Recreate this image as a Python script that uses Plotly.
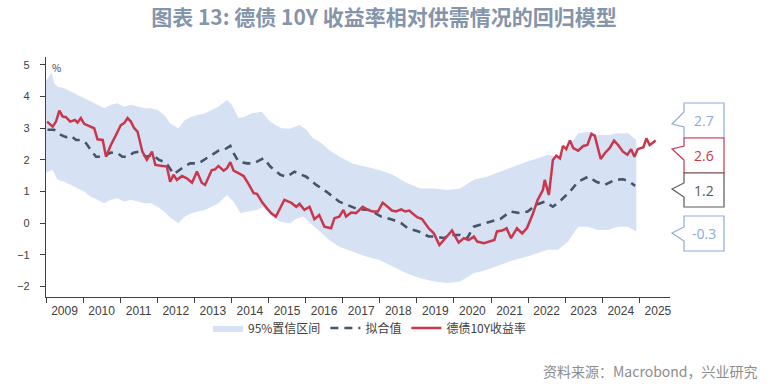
import plotly.graph_objects as go
import pandas as pd

# ---------------- data (decimal years, values in %) ----------------
yield_t = [2009.03, 2009.18, 2009.27, 2009.36, 2009.45, 2009.54, 2009.65, 2009.78, 2009.85, 2009.94,
           2010.03, 2010.17, 2010.30, 2010.39, 2010.53, 2010.62, 2010.75, 2010.89, 2011.02, 2011.11,
           2011.20, 2011.29, 2011.38, 2011.47, 2011.60, 2011.72, 2011.86, 2011.95, 2012.14, 2012.26,
           2012.35, 2012.44, 2012.53, 2012.67, 2012.80, 2012.94, 2013.07, 2013.20, 2013.29, 2013.47,
           2013.56, 2013.65, 2013.79, 2013.88, 2013.97, 2014.06, 2014.19, 2014.33, 2014.46, 2014.60,
           2014.69, 2014.82, 2014.96, 2015.07, 2015.20, 2015.32, 2015.43, 2015.54, 2015.61, 2015.75,
           2015.84, 2015.97, 2016.11, 2016.24, 2016.37, 2016.51, 2016.69, 2016.78, 2016.91, 2017.02,
           2017.09, 2017.23, 2017.36, 2017.54, 2017.68, 2017.81, 2017.95, 2018.08, 2018.22, 2018.33,
           2018.44, 2018.58, 2018.69, 2018.80, 2018.87, 2019.01, 2019.14, 2019.23, 2019.32, 2019.46,
           2019.61, 2019.73, 2019.82, 2019.95, 2020.04, 2020.13, 2020.27, 2020.40, 2020.54, 2020.63,
           2020.81, 2020.94, 2021.09, 2021.16, 2021.30, 2021.42, 2021.54, 2021.70, 2021.84, 2021.97,
           2022.13, 2022.26, 2022.40, 2022.45, 2022.56, 2022.67, 2022.76, 2022.86, 2022.94, 2023.03,
           2023.13, 2023.22, 2023.35, 2023.49, 2023.60, 2023.71, 2023.80, 2023.96, 2024.07, 2024.20,
           2024.32, 2024.43, 2024.56, 2024.68, 2024.78, 2024.87, 2024.96, 2025.11, 2025.19, 2025.28,
           2025.44]
yield_v = [3.21, 3.05, 3.21, 3.56, 3.37, 3.35, 3.21, 3.26, 3.18, 3.32,
           3.14, 3.07, 3.00, 2.65, 2.63, 2.10, 2.47, 2.79, 3.10, 3.16,
           3.32, 3.21, 3.00, 2.89, 2.26, 2.00, 2.26, 1.84, 1.81, 1.79,
           1.31, 1.53, 1.37, 1.49, 1.42, 1.28, 1.63, 1.28, 1.21, 1.68,
           1.70, 1.81, 1.66, 1.74, 1.93, 1.66, 1.58, 1.49, 1.24, 0.95,
           0.93, 0.68, 0.47, 0.32, 0.21, 0.47, 0.74, 0.68, 0.65, 0.52,
           0.61, 0.42, 0.52, 0.13, 0.26, -0.11, -0.16, 0.16, 0.21, 0.42,
           0.21, 0.34, 0.32, 0.52, 0.42, 0.37, 0.37, 0.65, 0.52, 0.40,
           0.37, 0.44, 0.37, 0.40, 0.32, 0.19, 0.13, 0.00, -0.16, -0.32,
           -0.69, -0.53, -0.42, -0.23, -0.42, -0.61, -0.47, -0.53, -0.42, -0.58,
           -0.63, -0.58, -0.53, -0.26, -0.23, -0.16, -0.47, -0.16, -0.32, -0.15,
           0.30, 0.74, 1.05, 1.37, 0.89, 2.00, 2.13, 2.05, 2.44, 2.34,
           2.61, 2.37, 2.29, 2.44, 2.47, 2.82, 2.76, 2.03, 2.21, 2.37,
           2.61, 2.47, 2.26, 2.16, 2.34, 2.10, 2.34, 2.40, 2.68, 2.47,
           2.61]

fit_t = [2009.04, 2009.22, 2009.40, 2009.54, 2009.67, 2009.81, 2009.94, 2010.08, 2010.21, 2010.35,
         2010.53, 2010.75, 2010.93, 2011.06, 2011.20, 2011.36, 2011.51, 2011.70, 2011.87, 2012.05,
         2012.23, 2012.45, 2012.75, 2012.89, 2013.11, 2013.34, 2013.47, 2013.65, 2013.79, 2013.97,
         2014.06, 2014.19, 2014.42, 2014.60, 2014.78, 2014.87, 2015.05, 2015.32, 2015.50, 2015.70,
         2015.79, 2016.02, 2016.29, 2016.56, 2016.91, 2017.27, 2017.41, 2017.72, 2018.04, 2018.35,
         2018.58, 2018.76, 2019.05, 2019.32, 2019.50, 2019.73, 2019.91, 2020.17, 2020.36, 2020.54,
         2020.81, 2020.98, 2021.25, 2021.52, 2021.79, 2021.99, 2022.22, 2022.45, 2022.67, 2022.90,
         2023.13, 2023.35, 2023.62, 2023.84, 2024.07, 2024.34, 2024.56, 2024.74, 2024.89]
fit_v = [2.95, 2.95, 2.79, 2.72, 2.76, 2.63, 2.63, 2.53, 2.31, 2.10,
         2.10, 2.23, 2.21, 2.10, 2.10, 2.23, 2.26, 2.10, 2.16, 2.00,
         1.92, 1.55, 1.81, 1.89, 1.89, 2.05, 2.16, 2.29, 2.31, 2.44,
         2.21, 1.95, 1.89, 1.89, 2.00, 2.05, 1.79, 1.53, 1.47, 1.63,
         1.58, 1.47, 1.21, 1.00, 0.68, 0.52, 0.44, 0.42, 0.21, 0.11,
         0.00, -0.16, -0.26, -0.42, -0.42, -0.47, -0.37, -0.37, -0.47, -0.11,
         0.00, 0.05, 0.13, 0.37, 0.32, 0.37, 0.58, 0.68, 0.52, 0.74,
         1.00, 1.31, 1.47, 1.31, 1.21, 1.37, 1.39, 1.31, 1.18]

upper_t = [2009.00, 2009.15, 2009.22, 2009.31, 2009.49, 2009.67, 2009.85, 2010.03, 2010.21, 2010.39,
           2010.57, 2010.75, 2010.93, 2011.11, 2011.29, 2011.47, 2011.65, 2011.83, 2012.01, 2012.19,
           2012.35, 2012.57, 2012.75, 2012.94, 2013.11, 2013.29, 2013.47, 2013.65, 2013.88, 2014.01,
           2014.19, 2014.37, 2014.55, 2014.82, 2015.00, 2015.18, 2015.36, 2015.58, 2015.84, 2016.02,
           2016.20, 2016.37, 2016.64, 2016.91, 2017.27, 2017.63, 2017.99, 2018.35, 2018.72, 2019.10,
           2019.46, 2019.82, 2020.17, 2020.54, 2020.89, 2021.25, 2021.61, 2021.98, 2022.26, 2022.54,
           2022.81, 2023.08, 2023.35, 2023.62, 2023.89, 2024.16, 2024.43, 2024.70, 2024.92]
upper_v = [4.50, 4.76, 4.42, 4.31, 4.26, 4.16, 4.05, 3.95, 3.84, 3.74,
           3.63, 3.74, 3.79, 3.68, 3.74, 3.68, 3.63, 3.63, 3.58, 3.42,
           3.15, 3.00, 3.26, 3.37, 3.42, 3.47, 3.58, 3.68, 3.89, 3.74,
           3.32, 3.37, 3.47, 3.52, 3.26, 3.10, 3.00, 2.98, 3.10, 2.95,
           2.68, 2.58, 2.31, 2.10, 1.89, 1.79, 1.68, 1.53, 1.28, 1.10,
           1.10, 1.05, 1.10, 1.37, 1.47, 1.63, 1.79, 1.95, 2.05, 2.16,
           2.10, 2.37, 2.84, 2.89, 2.79, 2.79, 2.84, 2.84, 2.63]

lower_t = [2009.00, 2009.18, 2009.31, 2009.49, 2009.67, 2009.85, 2010.03, 2010.21, 2010.39, 2010.57,
           2010.75, 2010.93, 2011.11, 2011.29, 2011.47, 2011.65, 2011.83, 2012.01, 2012.19, 2012.35,
           2012.57, 2012.75, 2012.94, 2013.11, 2013.29, 2013.47, 2013.65, 2013.88, 2014.06, 2014.24,
           2014.46, 2014.69, 2014.87, 2015.09, 2015.32, 2015.58, 2015.75, 2015.93, 2016.11, 2016.37,
           2016.64, 2016.91, 2017.27, 2017.63, 2017.99, 2018.35, 2018.72, 2019.10, 2019.46, 2019.82,
           2020.17, 2020.54, 2020.89, 2021.25, 2021.61, 2021.98, 2022.26, 2022.54, 2022.81, 2023.08,
           2023.35, 2023.62, 2023.89, 2024.16, 2024.43, 2024.70, 2024.92]
lower_v = [1.60, 1.68, 1.37, 1.31, 1.21, 1.10, 1.00, 0.84, 0.74, 0.63,
           0.74, 0.79, 0.68, 0.74, 0.68, 0.63, 0.63, 0.52, 0.37, 0.18,
           0.00, 0.21, 0.32, 0.37, 0.42, 0.52, 0.63, 0.89, 0.68, 0.32,
           0.37, 0.42, 0.52, 0.21, 0.05, 0.00, 0.13, 0.21, 0.00, -0.26,
           -0.53, -0.74, -0.90, -1.05, -1.16, -1.37, -1.58, -1.74, -1.84, -1.89,
           -1.84, -1.58, -1.47, -1.32, -1.16, -1.05, -0.95, -0.84, -0.84, -0.58,
           -0.11, -0.11, -0.21, -0.21, -0.11, -0.11, -0.26]

callout_labels = ["2.7", "2.6", "1.2", "-0.3"]

title_text = "图表 13: 德债 10Y 收益率相对供需情况的回归模型"
source_text = "资料来源：Macrobond，兴业研究"
legend_names = ["95%置信区间", "拟合值", "德债10Y收益率"]

# ---------------- helpers ----------------
def to_dates(ts):
    out = []
    for t in ts:
        y = int(t)
        out.append(pd.Timestamp(year=y, month=1, day=1) + pd.to_timedelta((t - y) * 365.25, unit="D"))
    return out

BAND = "#d6e2f4"
RED = "#c9374c"
NAVY = "#44546a"
LBLUE = "#8eaadb"
AXIS = "#404040"
FONT = "Noto Sans CJK SC, Noto Sans, sans-serif"

fig = go.Figure()

band_x = to_dates(upper_t) + to_dates(lower_t)[::-1]
band_y = upper_v + lower_v[::-1]
fig.add_trace(go.Scatter(x=band_x, y=band_y, fill="toself", fillcolor=BAND,
                         line=dict(width=0, color=BAND), mode="lines",
                         name=legend_names[0], hoverinfo="skip"))
fig.add_trace(go.Scatter(x=to_dates(fit_t), y=fit_v, mode="lines",
                         line=dict(color=NAVY, width=2.6, dash="8px,6px"),
                         name=legend_names[1]))
fig.add_trace(go.Scatter(x=to_dates(yield_t), y=yield_v, mode="lines",
                         line=dict(color=RED, width=2.5),
                         name=legend_names[2]))

# plot area geometry in px
L, R, T, B = 46, 103, 57, 91
W, H = 773, 388
PW, PH = W - L - R, H - T - B

def px(xp):
    return (xp - L) / PW

def py(yp):
    return (H - B - yp) / PH

# callouts: (label, color, box top, box bottom, notch top, tip, notch bottom)
callouts = [
    (callout_labels[0], LBLUE, 103, 138, 112, 124, 127),
    (callout_labels[1], RED, 138, 173, 146, 149, 160),
    (callout_labels[2], "#595959", 173, 207, 183, 189, 197),
    (callout_labels[3], LBLUE, 216, 251, 227, 233, 241),
]
bx0, bx1, tipx = 684, 724, 672
shapes = []
annotations = []
for lab, col, t0, b0, n0, tip, n1 in callouts:
    pts = [(bx0, t0), (bx1, t0), (bx1, b0), (bx0, b0), (bx0, n1), (tipx, tip), (bx0, n0)]
    path = "M " + " L ".join(f"{px(x):.5f},{py(y):.5f}" for x, y in pts) + " Z"
    shapes.append(dict(type="path", xref="paper", yref="paper", path=path,
                       fillcolor="white", line=dict(color=col, width=1.2), layer="above"))
    annotations.append(dict(xref="paper", yref="paper", x=px((bx0 + bx1) / 2), y=py((t0 + b0) / 2),
                            text=lab, showarrow=False, xanchor="center", yanchor="middle",
                            font=dict(size=14, color=col, family="Open Sans, sans-serif")))

annotations.append(dict(xref="paper", yref="paper", x=px(50), y=py(58), text="%", showarrow=False,
                        xanchor="left", yanchor="top", font=dict(size=10, color=AXIS, family=FONT)))
annotations.append(dict(xref="paper", yref="paper", x=px(760), y=py(371), text=source_text,
                        showarrow=False, xanchor="right", yanchor="middle",
                        font=dict(size=14, color="#8c8c8c", family=FONT)))

fig.update_layout(
    width=W, height=H,
    margin=dict(l=L, r=R, t=T, b=B, pad=0, autoexpand=False),
    paper_bgcolor="white", plot_bgcolor="white",
    title=dict(text=f"<b>{title_text}</b>", x=384 / W, xref="container", xanchor="center",
               y=1 - 18 / H, yref="container", yanchor="middle",
               font=dict(size=21, color="#8494aa", family=FONT)),
    font=dict(family=FONT, color=AXIS),
    showlegend=True,
    legend=dict(orientation="h", x=px(370), xanchor="center", y=py(328), yanchor="middle",
                font=dict(size=12, color=AXIS, family=FONT), itemwidth=30,
                bgcolor="rgba(0,0,0,0)", tracegroupgap=0),
    shapes=shapes,
    annotations=annotations,
)

fig.update_xaxes(
    type="date",
    range=[pd.Timestamp("2009-01-01"), pd.Timestamp("2025-10-30")],
    tick0="2009-01-01", dtick="M12",
    ticklabelmode="period", tickformat="%Y",
    ticks="outside", ticklen=5, tickwidth=1, tickcolor=AXIS,
    showline=True, linecolor=AXIS, linewidth=1.2,
    showgrid=False, zeroline=False, ticklabelstandoff=-3,
    tickfont=dict(size=12, color=AXIS, family="Liberation Sans, sans-serif"),
)
fig.update_yaxes(
    range=[-2.33, 5.25],
    tickvals=[-2, -1, 0, 1, 2, 3, 4, 5],
    ticks="outside", ticklen=5, tickwidth=1, tickcolor=AXIS,
    showline=True, linecolor=AXIS, linewidth=1.2,
    showgrid=False, zeroline=False, ticklabelstandoff=8,
    tickfont=dict(size=11, color=AXIS, family="Liberation Sans, sans-serif"),
)

fig.write_html("out.html", config={"displayModeBar": False},
               post_script="document.body.style.margin='0';document.body.style.padding='0';")
